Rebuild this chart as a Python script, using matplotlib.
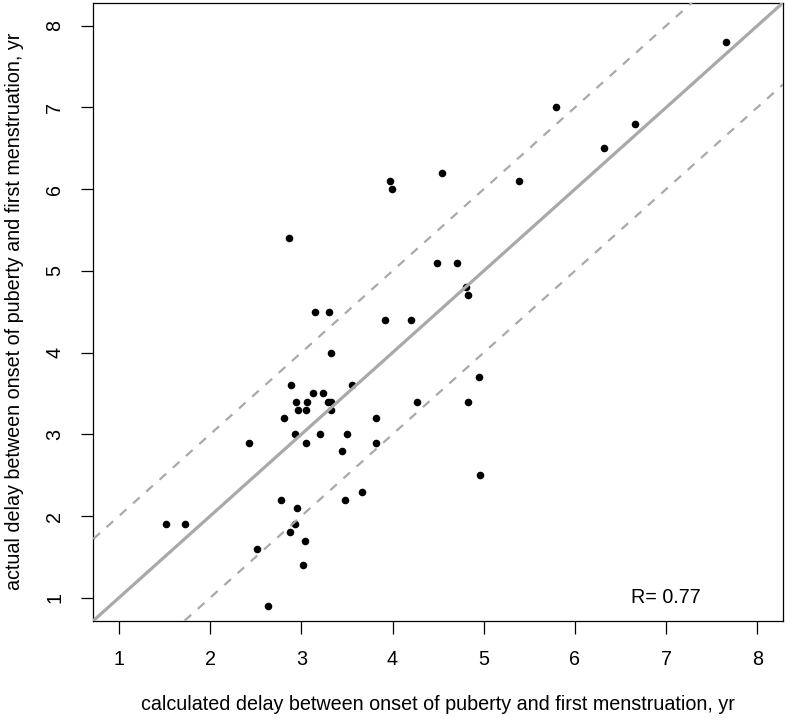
import matplotlib
matplotlib.use("Agg")
import matplotlib.pyplot as plt

plt.rcParams['font.family'] = ['Liberation Sans', 'DejaVu Sans']

# calculated delay (x) vs actual delay (y), years
calculated = [7.65, 5.79, 6.66, 6.32, 5.39, 3.97, 3.99, 4.54, 4.49, 4.71,
              4.80, 4.83, 3.92, 4.20, 4.95, 4.27, 4.83, 3.82, 3.82, 4.96,
              2.86, 3.15, 3.30, 3.33, 2.89, 3.55, 3.13, 3.24, 2.94, 3.06,
              3.29, 3.32, 2.96, 3.05, 3.32, 2.81, 2.93, 3.21, 3.50, 2.43,
              3.05, 3.45, 2.78, 3.48, 3.67, 2.95, 2.93, 2.88, 3.04, 2.51,
              3.02, 2.63, 1.52, 1.72]
actual = [7.8, 7.0, 6.8, 6.5, 6.1, 6.1, 6.0, 6.2, 5.1, 5.1,
          4.8, 4.7, 4.4, 4.4, 3.7, 3.4, 3.4, 3.2, 2.9, 2.5,
          5.4, 4.5, 4.5, 4.0, 3.6, 3.6, 3.5, 3.5, 3.4, 3.4,
          3.4, 3.4, 3.3, 3.3, 3.3, 3.2, 3.0, 3.0, 3.0, 2.9,
          2.9, 2.8, 2.2, 2.2, 2.3, 2.1, 1.9, 1.8, 1.7, 1.6,
          1.4, 0.9, 1.9, 1.9]
ticks = [1, 2, 3, 4, 5, 6, 7, 8]
r_value = 0.77

fig = plt.figure(figsize=(7.87, 7.19), dpi=100)
ax = fig.add_axes([0.1186, 0.1367, 0.8763, 0.8595])

ax.scatter(calculated, actual, s=30, color='black', zorder=2, linewidths=0)

# identity line and +/- 1 year band
ax.axline((0, 0), slope=1, color='#a9a9a9', lw=2.3, zorder=3)
ax.axline((0, 1), slope=1, color='#a9a9a9', lw=1.6, dashes=(4, 4), zorder=3)
ax.axline((0, -1), slope=1, color='#a9a9a9', lw=1.6, dashes=(4, 4), zorder=3)

ax.set_xlim(0.72, 8.28)
ax.set_ylim(0.72, 8.28)
ax.set_xticks(ticks)
ax.set_yticks(ticks)
ax.set_yticklabels([str(t) for t in ticks], rotation=90, va='center')
ax.tick_params(direction='out', length=9, width=0.9, labelsize=14.2, pad=12)
for s in ax.spines.values():
    s.set_linewidth(0.9)

ax.text(7, 1, 'R= {:.2f}'.format(r_value), fontsize=14.2, ha='center', va='center')

ax.set_xlabel('calculated delay between onset of puberty and first menstruation, yr',
              fontsize=14.2, labelpad=18.5)
ax.set_ylabel('actual delay between onset of puberty and first menstruation, yr',
              fontsize=14.2, labelpad=15)

fig.savefig('out.png', dpi=100)
